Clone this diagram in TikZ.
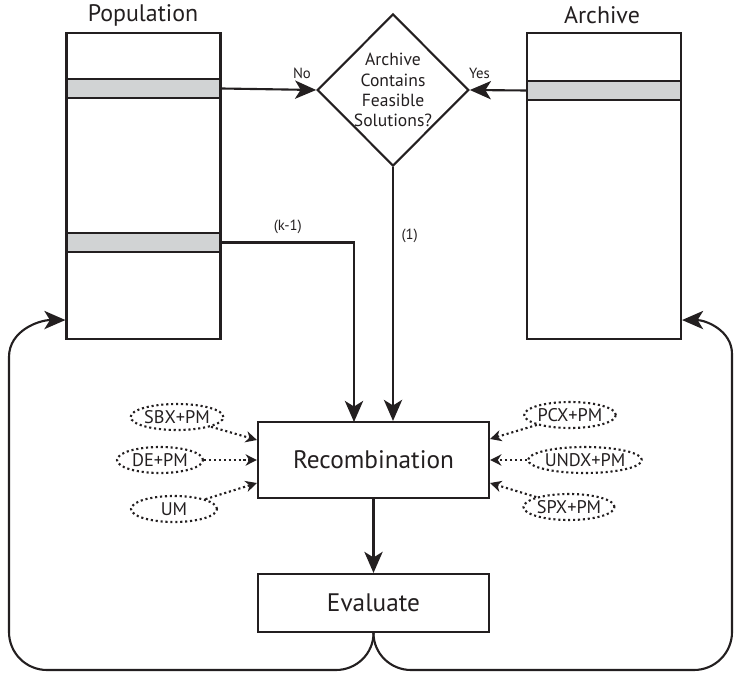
\documentclass[tikz,border=0pt]{standalone}
\usepackage{fontspec}
\setmainfont{PT Sans}
\usetikzlibrary{shapes.geometric,arrows.meta}
\definecolor{ink}{RGB}{35,31,32}
\definecolor{bandgray}{RGB}{209,211,212}

\begin{document}
\begin{tikzpicture}[x=0.025cm, y=0.025cm, line width=1.5pt, color=ink,
    store/.style={draw, minimum width=3.85cm, minimum height=7.65cm, inner sep=0},
    band/.style={draw, fill=bandgray, minimum width=3.85cm, minimum height=0.49cm, inner sep=0},
    title/.style={font=\fontsize{17}{20}\selectfont},
    stepbox/.style={draw, minimum width=5.775cm, inner sep=0, font=\fontsize{18}{21}\selectfont},
    op/.style={draw, dotted, ellipse, minimum width=2.15cm, minimum height=0.65cm, inner sep=0pt, font=\fontsize{13}{15}\selectfont},
    flow/.style={-{Stealth[length=15pt,width=13pt,inset=4pt]}},
    opflow/.style={dotted, -{Stealth[length=8pt,width=8pt,inset=2.5pt]}},
    lbl/.style={font=\fontsize{10.5}{12}\selectfont}]
    \useasboundingbox (0,0) rectangle (735,672);

    % Population and archive
    \node[store] (pop) at (143.5,486) {};
    \node[band] (best) at (143.5,583.5) {};
    \node[band] (kbest) at (143.5,429.5) {};
    \node[store] (arch) at (604,486) {};
    \node[band] (feas) at (604,581.5) {};
    \node[title] (poplabel) at (143,657) {Population};
    \node[title] (archlabel) at (602,657) {Archive};

    % Decision
    \node[draw, diamond, minimum width=3.75cm, minimum height=3.8cm, inner sep=0, align=center,
          font=\fontsize{12.5}{14.4}\selectfont] (check) at (393,582) {Archive\\Contains\\Feasible\\Solutions?};
    \draw[flow] (best.east) -- (check.west) node[lbl, pos=0.85, above=4pt] {No};
    \draw[flow] (feas.west) -- (check.east) node[lbl, pos=0.83, above=4pt] {Yes};

    % Recombination and evaluation
    \node[stepbox, minimum height=1.9cm] (rec) at (373.5,212) {Recombination};
    \node[stepbox, minimum height=1.45cm] (eval) at (373.5,69) {Evaluate};

    \coordinate (kin) at (354,250);
    \draw[flow] (kbest.east) -| node[lbl, pos=0.25, above=2pt] {(k-1)} (kin);
    \draw[flow] (check.south) -- (check.south |- rec.north) node[lbl, pos=0.27, right=2pt] {(1)};
    \draw[flow] (rec) -- (eval);

    % Operators
    \foreach \name/\x/\y/\txt in {sbx/177/255/SBX+PM, de/160/212/DE+PM, um/174/163/UM,
                                  pcx/570/257/PCX+PM, undx/585/212/UNDX+PM, spx/569/165/SPX+PM}
        \node[op] (\name) at (\x,\y) {\txt};
    \foreach \name/\side/\dy in {sbx/west/0.5, de/west/0, um/west/-0.575,
                                 pcx/east/0.525, undx/east/0, spx/east/-0.575}
        \draw[opflow] (\name) -- ([yshift=\dy cm]rec.\side);

    % Loop back
    \coordinate (popin) at ([yshift=-3.35cm]pop.west);
    \coordinate (archin) at ([yshift=-3.35cm]arch.east);
    \draw[flow] (eval.south) to[out=-90,in=0] (336,2) -- (47,2) arc[start angle=270, end angle=180, radius=38]
        -- (9,315) to[out=90,in=180] (popin);
    \draw[flow] (eval.south) to[out=-90,in=180] (411,2) -- (694,2) arc[start angle=270, end angle=360, radius=38]
        -- (732,318) to[out=90,in=0] (archin);
\end{tikzpicture}
\end{document}
